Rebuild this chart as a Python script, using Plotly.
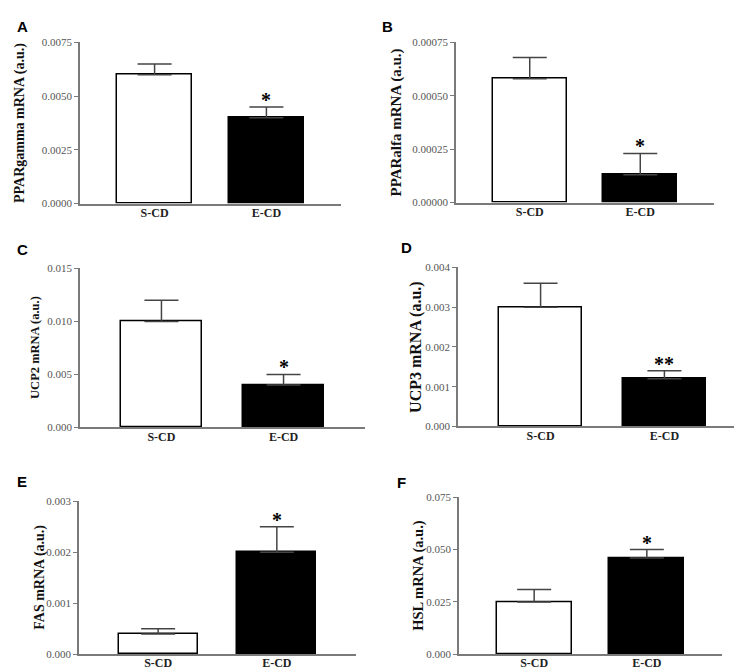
import plotly.graph_objects as go

groups = ["S-CD", "E-CD"]
letters = ["A", "B", "C", "D", "E", "F"]
y_titles = ["PPARgamma mRNA (a.u.)", "PPARalfa mRNA (a.u.)", "UCP2 mRNA (a.u.)",
            "UCP3 mRNA (a.u.)", "FAS mRNA (a.u.)", "HSL mRNA (a.u.)"]
scd_mean = [0.0060, 0.00058, 0.010, 0.0030, 0.0004, 0.025]
ecd_mean = [0.0040, 0.00013, 0.004, 0.0012, 0.0020, 0.046]
scd_sem = [0.0005, 0.00010, 0.002, 0.0006, 0.0001, 0.006]
ecd_sem = [0.0005, 0.00010, 0.001, 0.0002, 0.0005, 0.004]
y_max = [0.0075, 0.00075, 0.015, 0.004, 0.003, 0.075]
y_step = [0.0025, 0.00025, 0.005, 0.001, 0.001, 0.025]
y_fmt = [".4f", ".5f", ".3f", ".3f", ".3f", ".3f"]
stars = ["*", "*", "*", "**", "*", "*"]

W, H = 742, 670
# pixel boxes of each plot area: left, right, top, bottom
boxes = [(72, 333, 29, 193), (448, 706, 29, 192),
         (72, 357, 259, 421), (450, 739, 258, 420),
         (71, 348, 496, 652), (451, 714, 492, 652)]
letter_pos = [(14, 13), (379, 13), (14, 240), (398, 238), (14, 476), (393, 477)]
title_x = [12, 389, 27, 408, 32, 411]
title_size = [14, 15, 12.5, 16, 14, 14.5]

SERIF = "Liberation Serif, Times New Roman, serif"
AXIS_COL = "#7a7a7a"

fig = go.Figure()
annotations = []
layout = {}

for i in range(6):
    n = "" if i == 0 else str(i + 1)
    l, r, t, b = boxes[i]
    fig.add_trace(go.Bar(
        x=groups, y=[scd_mean[i], ecd_mean[i]],
        width=0.667,
        marker=dict(color=["white", "black"], line=dict(color="black", width=1.5)),
        error_y=dict(type="data", symmetric=False,
                     array=[scd_sem[i], ecd_sem[i]], arrayminus=[0, 0],
                     color="#444", thickness=1.5, width=17),
        xaxis="x" + n, yaxis="y" + n, showlegend=False,
    ))
    layout["xaxis" + n] = dict(
        domain=[l / W, r / W], anchor="y" + n, range=[-0.667, 1.667],
        showline=True, linecolor=AXIS_COL, linewidth=1.5, ticks="",
        tickfont=dict(family=SERIF, size=12, color="#222", weight="bold"),
        ticklabelstandoff=-3,
        showgrid=False, zeroline=False, fixedrange=True,
    )
    layout["yaxis" + n] = dict(
        domain=[1 - b / H, 1 - t / H], anchor="x" + n, range=[0, y_max[i]],
        dtick=y_step[i], tick0=0, tickformat=y_fmt[i],
        showline=True, linecolor=AXIS_COL, linewidth=1.5,
        ticks="outside", ticklen=4, tickcolor=AXIS_COL, tickwidth=1,
        tickfont=dict(family=SERIF, size=11, color="#555"),
        showgrid=False, zeroline=False, fixedrange=True,
    )
    # significance marks above the E-CD error bar
    annotations.append(dict(
        x="E-CD", y=ecd_mean[i] + ecd_sem[i], xref="x" + n, yref="y" + n,
        text="<b>" + stars[i] + "</b>", showarrow=False, yanchor="bottom",
        yshift=-6, font=dict(family=SERIF, size=20, color="black"),
    ))
    annotations.append(dict(
        x=title_x[i] / W, y=1 - (t + b) / 2 / H, xref="paper", yref="paper",
        xanchor="center", yanchor="middle",
        text="<b>" + y_titles[i] + "</b>", textangle=-90, showarrow=False,
        font=dict(family=SERIF, size=title_size[i], color="#111"),
    ))
    lx, ly = letter_pos[i]
    annotations.append(dict(
        x=lx / W, y=1 - ly / H, xref="paper", yref="paper",
        xanchor="center", yanchor="middle",
        text="<b>" + letters[i] + "</b>", showarrow=False,
        font=dict(family="Liberation Sans", size=15, color="black"),
    ))

fig.update_layout(
    width=W, height=H, margin=dict(l=0, r=0, t=0, b=0),
    paper_bgcolor="white", plot_bgcolor="white",
    annotations=annotations, bargap=0, **layout,
)
fig.write_html("out.html")
